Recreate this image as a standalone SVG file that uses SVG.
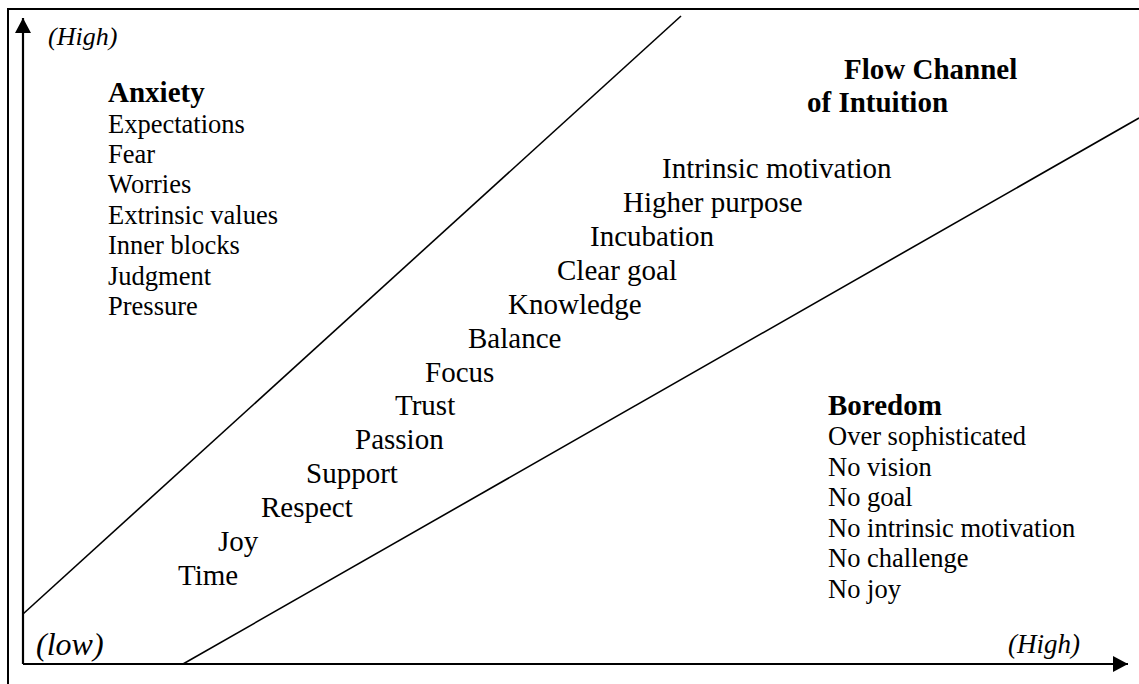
<svg xmlns="http://www.w3.org/2000/svg" width="1139" height="684" viewBox="0 0 1139 684">
<style>
.t{font-family:"Liberation Serif","Times New Roman",serif;font-size:26.5px;fill:#000}
.d{font-family:"Liberation Serif","Times New Roman",serif;font-size:29px;fill:#000}
.b{font-family:"Liberation Serif","Times New Roman",serif;font-size:29px;font-weight:bold;fill:#000}
.i{font-family:"Liberation Serif","Times New Roman",serif;font-style:italic;fill:#000}
.ln{stroke:#000;fill:none}
</style>
<defs>
<marker id="ah" viewBox="0 0 15 16" refX="15" refY="8" markerWidth="15" markerHeight="16" markerUnits="userSpaceOnUse" orient="auto">
<path d="M0,0 L15,8 L0,16 Z" fill="#000"/>
</marker>
</defs>
<g id="frame">
<path class="ln" d="M8,684 V9 H1139" stroke-width="2"/>
</g>
<g id="connectors">
<line class="ln" x1="23" y1="664" x2="23" y2="18" stroke-width="2.2" marker-end="url(#ah)"/>
<line class="ln" x1="23" y1="664" x2="1128" y2="664" stroke-width="2.2" marker-end="url(#ah)"/>
<line class="ln" x1="23" y1="614" x2="681" y2="16" stroke-width="1.6"/>
<line class="ln" x1="183" y1="664" x2="1139" y2="118" stroke-width="1.6"/>
</g>
<g id="axis-labels">
<text class="i" x="48" y="45" font-size="26">(High)</text>
<text class="i" x="36" y="655" font-size="32">(low)</text>
<text class="i" x="1008" y="653" font-size="27">(High)</text>
</g>
<g id="anxiety">
<text class="b" x="108" y="102">Anxiety</text>
<text class="t" x="108" y="133">Expectations</text>
<text class="t" x="108" y="163">Fear</text>
<text class="t" x="108" y="193">Worries</text>
<text class="t" x="108" y="224">Extrinsic values</text>
<text class="t" x="108" y="254">Inner blocks</text>
<text class="t" x="108" y="285">Judgment</text>
<text class="t" x="108" y="315">Pressure</text>
</g>
<g id="flow-channel">
<text class="b" x="844" y="79">Flow Channel</text>
<text class="b" x="807" y="112">of Intuition</text>
</g>
<g id="flow-items">
<text class="d" x="662" y="178">Intrinsic motivation</text>
<text class="d" x="623" y="212">Higher purpose</text>
<text class="d" x="590" y="246">Incubation</text>
<text class="d" x="557" y="280">Clear goal</text>
<text class="d" x="508" y="314">Knowledge</text>
<text class="d" x="468" y="348">Balance</text>
<text class="d" x="425" y="382">Focus</text>
<text class="d" x="395" y="415">Trust</text>
<text class="d" x="355" y="449">Passion</text>
<text class="d" x="306" y="483">Support</text>
<text class="d" x="261" y="517">Respect</text>
<text class="d" x="218" y="551">Joy</text>
<text class="d" x="178" y="585">Time</text>
</g>
<g id="boredom">
<text class="b" x="828" y="415">Boredom</text>
<text class="t" x="828" y="445">Over sophisticated</text>
<text class="t" x="828" y="476">No vision</text>
<text class="t" x="828" y="506">No goal</text>
<text class="t" x="828" y="537">No intrinsic motivation</text>
<text class="t" x="828" y="567">No challenge</text>
<text class="t" x="828" y="598">No joy</text>
</g>
</svg>
